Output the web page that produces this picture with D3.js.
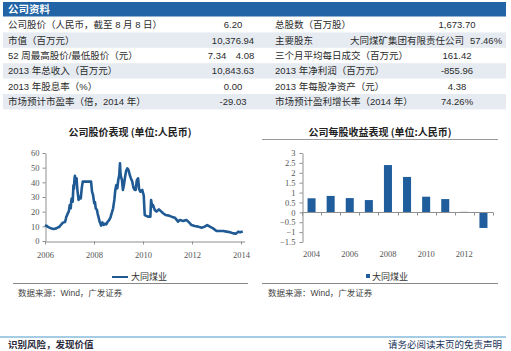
<!DOCTYPE html>
<html><head><meta charset="utf-8">
<script src="https://cdn.jsdelivr.net/npm/d3@7/dist/d3.min.js"></script>
<style>
html,body{margin:0;padding:0;background:#fff;}
svg{display:block;}
text{font-family:"Liberation Sans","Noto Sans CJK SC",sans-serif;}
.cjk{font-family:"Noto Sans CJK SC",sans-serif;}
.serif{font-family:"Liberation Serif","DejaVu Serif",serif;}
</style>
</head><body>
<svg id="c" width="511" height="351"></svg>
<script>
// ---------- data ----------
const tableTitle = "公司资料";
const leftLabels = ["公司股价（人民币，截至 8 月 8 日）","市值（百万元）","52 周最高股价/最低股价（元）","2013 年总收入（百万元）","2013 年股息率（%）","市场预计市盈率（倍，2014 年）"];
const leftValues = ["6.20","10,376.94","7.34|4.08","10,843.63","0.00","-29.03"];
const rightLabels = ["总股数（百万股）","主要股东","三个月平均每日成交（百万元）","2013 年净利润（百万元）","2013 年每股净资产（元）","市场预计盈利增长率（2014 年）"];
const rightValues = ["1,673.70","57.46%","161.42","-855.96","4.38","74.26%"];
const majorHolder = "大同煤矿集团有限责任公司";

const priceTitle = "公司股价表现 (单位:人民币)";
const epsTitle = "公司每股收益表现 (单位:人民币)";
const seriesName = "大同煤业";
const sourceText = "数据来源：Wind，广发证券";
const footerLeft = "识别风险，发现价值";
const footerRight = "请务必阅读末页的免责声明";

const priceYearTicks = [2006,2008,2010,2012,2014];
const priceValueTicks = [0,10,20,30,40,50,60];
const priceYears = [2006.00,2006.04,2006.08,2006.12,2006.16,2006.21,2006.26,2006.30,2006.35,2006.40,2006.46,2006.52,2006.57,2006.62,2006.67,2006.72,2006.76,2006.82,2006.85,2006.87,2006.90,2006.93,2006.97,2007.01,2007.05,2007.07,2007.09,2007.13,2007.16,2007.18,2007.20,2007.22,2007.25,2007.29,2007.31,2007.33,2007.37,2007.41,2007.46,2007.50,2007.54,2007.88,2007.92,2007.96,2008.01,2008.04,2008.07,2008.12,2008.15,2008.18,2008.23,2008.29,2008.34,2008.39,2008.45,2008.50,2008.56,2008.61,2008.67,2008.72,2008.78,2008.83,2008.87,2008.91,2008.95,2008.99,2009.03,2009.06,2009.08,2009.10,2009.14,2009.18,2009.22,2009.27,2009.31,2009.36,2009.41,2009.46,2009.50,2009.56,2009.59,2009.62,2009.66,2009.70,2009.75,2009.80,2009.84,2009.89,2009.97,2010.03,2010.05,2010.07,2010.20,2010.30,2010.33,2010.37,2010.41,2010.48,2010.55,2010.65,2010.75,2010.82,2010.93,2011.06,2011.16,2011.30,2011.43,2011.50,2011.64,2011.77,2011.88,2011.98,2012.11,2012.25,2012.39,2012.52,2012.62,2012.73,2012.86,2013.00,2013.14,2013.27,2013.41,2013.55,2013.68,2013.80,2013.89,2013.96,2014.07];
const priceValues = [10.9,10.5,10.2,9.6,9.3,8.9,8.6,8.3,8.2,8.4,8.6,9.2,9.5,10.4,11.4,12.3,12.7,13.0,15.0,16.6,17.5,18.9,20.0,24.5,22.3,27.0,29.0,26.8,38.0,35.5,41.6,44.5,39.3,42.7,37.0,33.6,28.0,30.2,29.0,36.0,40.5,40.5,33.6,31.4,25.7,26.5,22.3,21.1,18.5,16.6,13.2,10.5,12.7,10.9,11.8,11.4,13.2,14.1,15.9,18.9,22.3,28.0,34.8,38.2,35.9,41.6,45.0,53.0,46.0,43.9,41.6,34.8,38.2,43.9,47.7,49.5,48.4,45.0,43.0,40.5,38.0,35.9,35.0,34.8,41.6,42.7,35.5,33.6,34.8,31.0,24.0,17.7,16.6,16.6,28.0,23.6,24.5,21.1,20.0,21.6,20.0,18.9,17.7,17.3,16.6,15.9,13.2,14.3,13.6,14.3,12.7,10.9,10.2,9.8,9.1,9.8,10.9,9.8,8.6,6.8,6.8,6.8,6.4,5.9,5.2,5.0,6.4,5.9,6.4];

const epsYears = ["2004","2005","2006","2007","2008","2009","2010","2011","2012","2013"];
const epsValues = [0.71,0.83,0.72,0.62,2.39,1.79,0.79,0.67,0.04,-0.79];
const epsLabelYears = ["2004","2006","2008","2010","2012"];
const epsTicks = [3,2.5,2,1.5,1,0.5,0,-0.5,-1,-1.5];

// ---------- drawing ----------
const svg = d3.select("#c");
svg.append("rect").attr("width",511).attr("height",351).attr("fill","#fff");

const blue = "#2264a6";
const lineBlue = "#1f5a94";
const axisGrey = "#8f8f8f";
const tickText = "#555";

// header
svg.append("rect").attr("x",3).attr("y",2).attr("width",503).attr("height",14.5).attr("fill",blue);
svg.append("text").attr("class","cjk").attr("x",8).attr("y",13.3).attr("fill","#fff")
  .attr("font-size",10.5).attr("font-weight","bold").text(tableTitle);

const rowTop = 17, rowH = 15.4;
const rows = d3.range(leftLabels.length);
svg.selectAll("rect.row").data(rows.filter(i=>i%2===1)).join("rect")
  .attr("class","row").attr("x",3).attr("y",i=>rowTop+i*rowH).attr("width",503).attr("height",rowH)
  .attr("fill","#e6ebf2");
const baseY = i => rowTop + i*rowH + rowH/2 + 3.4;
const tcol = "#2b2b2b";
svg.selectAll("text.ll").data(rows).join("text").attr("class","ll")
  .attr("x",8).attr("y",baseY).attr("font-size",9.5).attr("fill",tcol).text(i=>leftLabels[i]);
rows.forEach(i=>{
  const v = leftValues[i];
  if (v.includes("|")) {
    const [a,b] = v.split("|");
    svg.append("text").attr("x",217).attr("y",baseY(i)).attr("text-anchor","middle").attr("font-size",9.5).attr("fill",tcol).text(a);
    svg.append("text").attr("x",245).attr("y",baseY(i)).attr("text-anchor","middle").attr("font-size",9.5).attr("fill",tcol).text(b);
  } else {
    svg.append("text").attr("x",233).attr("y",baseY(i)).attr("text-anchor","middle").attr("font-size",9.5).attr("fill",tcol).text(v);
  }
});
svg.selectAll("text.rl").data(rows).join("text").attr("class","rl")
  .attr("x",275).attr("y",baseY).attr("font-size",9.5).attr("fill",tcol).text(i=>rightLabels[i]);
rows.forEach(i=>{
  if (i===1) {
    svg.append("text").attr("x",350).attr("y",baseY(i)).attr("font-size",9.5).attr("fill",tcol).text(majorHolder);
    svg.append("text").attr("x",486).attr("y",baseY(i)).attr("text-anchor","middle").attr("font-size",9.5).attr("fill",tcol).text(rightValues[i]);
  } else {
    svg.append("text").attr("x",457).attr("y",baseY(i)).attr("text-anchor","middle").attr("font-size",9.5).attr("fill",tcol).text(rightValues[i]);
  }
});

// chart titles
svg.append("text").attr("class","cjk").attr("x",130).attr("y",136).attr("text-anchor","middle")
  .attr("font-size",10).attr("font-weight","bold").attr("fill","#222").text(priceTitle);
svg.append("text").attr("class","cjk").attr("x",380).attr("y",136).attr("text-anchor","middle")
  .attr("font-size",10).attr("font-weight","bold").attr("fill","#222").text(epsTitle);
svg.append("line").attr("x1",262).attr("x2",498).attr("y1",139.5).attr("y2",139.5).attr("stroke","#999").attr("stroke-width",1);

function styleAxis(g){
  g.selectAll("path,line").attr("stroke",axisGrey).attr("stroke-width",1);
  g.selectAll("text").attr("class","serif").attr("fill",tickText).attr("font-size",8.5);
}

// ----- left chart: price line -----
const xL = d3.scaleLinear().domain([2006,2014.15]).range([45,244.7]);
const yL = d3.scaleLinear().domain([0,60]).range([241,153]);
const gyL = svg.append("g").attr("transform","translate(45.5,0)")
  .call(d3.axisLeft(yL).tickValues(priceValueTicks).tickSize(3).tickSizeOuter(0).tickPadding(3).tickFormat(d3.format("d")));
styleAxis(gyL);
const gxL = svg.append("g").attr("transform","translate(0,241.5)")
  .call(d3.axisBottom(xL).tickValues(priceYearTicks).tickSize(3).tickSizeOuter(0).tickPadding(7).tickFormat(d3.format("d")));
styleAxis(gxL);

const pricePts = priceYears.map((y,i)=>[y,priceValues[i]]);
svg.append("path").datum(pricePts)
  .attr("fill","none").attr("stroke",lineBlue).attr("stroke-width",2.6).attr("stroke-linejoin","round")
  .attr("d", d3.line().x(d=>xL(d[0])).y(d=>yL(d[1])));

// legend left
svg.append("line").attr("x1",112).attr("x2",128).attr("y1",277).attr("y2",277).attr("stroke",lineBlue).attr("stroke-width",2);
svg.append("text").attr("class","cjk").attr("x",131).attr("y",280.3).attr("font-size",9).attr("fill","#333").text(seriesName);

// ----- right chart: EPS bars -----
const xR = d3.scaleBand().domain(epsYears).range([302,493]).paddingInner(0.58).paddingOuter(0.29);
const yR = d3.scaleLinear().domain([-1.5,3]).range([242,153]);
const gyR = svg.append("g").attr("transform","translate(302.5,0)")
  .call(d3.axisLeft(yR).tickValues(epsTicks).tickSize(3).tickSizeOuter(0).tickPadding(4).tickFormat(d3.format("")));
styleAxis(gyR);

svg.selectAll("rect.bar").data(epsYears).join("rect").attr("class","bar")
  .attr("x",d=>xR(d)).attr("width",xR.bandwidth())
  .attr("y",(d,i)=>yR(Math.max(0,epsValues[i])))
  .attr("height",(d,i)=>Math.abs(yR(epsValues[i])-yR(0)))
  .attr("fill",(d,i)=>Math.abs(epsValues[i])<0.1?"#b9c8da":"#1f5d9c");

// zero line with category boundary ticks
const zeroY = Math.round(yR(0))+0.5;
svg.append("line").attr("x1",302).attr("x2",493).attr("y1",zeroY).attr("y2",zeroY).attr("stroke",axisGrey);
const step = xR.step();
const bounds = d3.range(epsYears.length+1).map(i=>xR.range()[0]+i*step);
svg.selectAll("line.bt").data(bounds).join("line").attr("class","bt")
  .attr("x1",d=>Math.round(d)+0.5).attr("x2",d=>Math.round(d)+0.5).attr("y1",zeroY).attr("y2",zeroY+3).attr("stroke",axisGrey);
svg.selectAll("text.xr").data(epsLabelYears).join("text").attr("class","serif xr")
  .attr("x",d=>xR(d)+xR.bandwidth()/2).attr("y",257).attr("text-anchor","middle")
  .attr("font-size",8.5).attr("fill",tickText).text(d=>d);

// legend right
svg.append("rect").attr("x",366).attr("y",274).attr("width",4).attr("height",4).attr("fill","#1f5d9c");
svg.append("text").attr("class","cjk").attr("x",372).attr("y",280.3).attr("font-size",9).attr("fill","#333").text(seriesName);

// separators and sources
svg.append("line").attr("x1",13).attr("x2",248).attr("y1",283.5).attr("y2",283.5).attr("stroke","#888");
svg.append("line").attr("x1",262).attr("x2",498).attr("y1",283.5).attr("y2",283.5).attr("stroke","#888");
svg.append("text").attr("x",18).attr("y",296).attr("font-size",8.5).attr("fill","#444").text(sourceText);
svg.append("text").attr("x",268).attr("y",296).attr("font-size",8.5).attr("fill","#444").text(sourceText);

// footer
svg.append("line").attr("x1",0).attr("x2",506).attr("y1",337).attr("y2",337).attr("stroke","#4a9bcc").attr("stroke-width",1.2);
svg.append("text").attr("class","cjk").attr("x",8).attr("y",347.5).attr("font-size",9.5).attr("font-weight","bold").attr("fill","#2a2a3a").text(footerLeft);
svg.append("text").attr("class","cjk").attr("x",502).attr("y",347.5).attr("text-anchor","end").attr("font-size",9.5).attr("fill","#23335a").text(footerRight);
</script>
</body></html>
